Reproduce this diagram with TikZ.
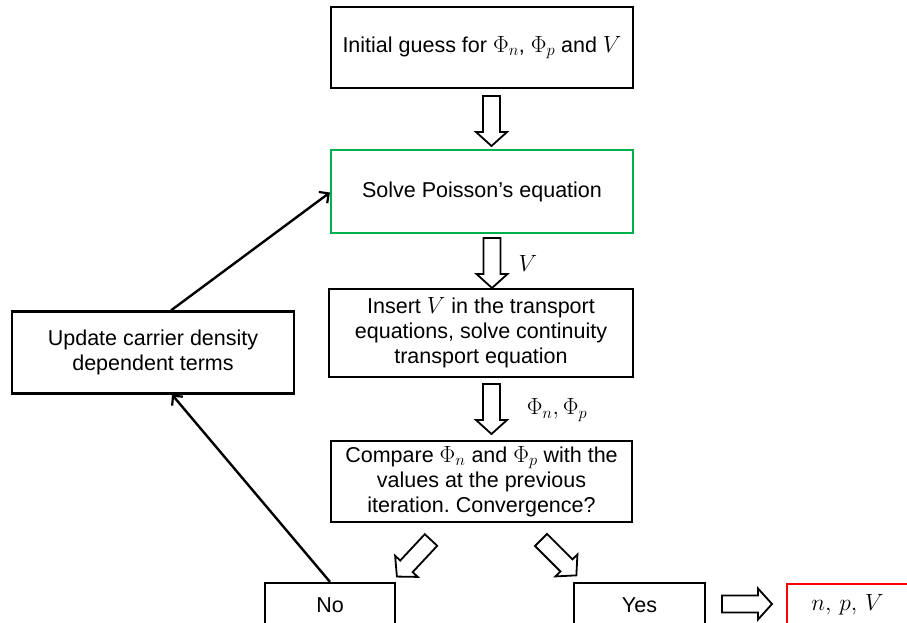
\RequirePackage{fix-cm}
\documentclass[tikz,border=0pt]{standalone}
\usepackage{fontspec}
\setmainfont{Liberation Sans}
\DeclareMathSizes{21.5}{23.5}{16.5}{12}
\frenchspacing
\usetikzlibrary{arrows.meta}
\definecolor{boxgreen}{RGB}{0,176,80}
\definecolor{boxred}{RGB}{255,0,0}
\tikzset{
  box/.style={draw=black, line width=2.2pt, fill=white, align=center, inner sep=0pt,
    font=\fontsize{21.5}{25}\selectfont},
  thickbox/.style={box, line width=2.9pt},
  conn/.style={line width=2.4pt, -{Straight Barb[length=7pt,width=14pt,line width=2.2pt]}},
  lbl/.style={inner sep=0pt, font=\fontsize{21.5}{25}\selectfont},
  blockarr/.pic={
    \draw[line width=1.8pt, fill=white, line join=miter]
      (-8.5,0) -- (8.5,0) -- (8.5,36) -- (15.5,36) -- (0,50) -- (-15.5,36) -- (-8.5,36) -- cycle;
  }
}
\begin{document}
\begin{tikzpicture}[x=1pt, y=-1pt]
\useasboundingbox (0,0) rectangle (907,623);
\clip (0,0) rectangle (907,623);

\node[box, line width=2.6pt, minimum width=302pt, minimum height=81pt] (init) at (482,47.5)
  {Initial guess for $\Phi_n$, $\Phi_p$ and $V$};
\node[box, draw=boxgreen, minimum width=302pt, minimum height=83pt] (solve) at (482,191.5)
  {Solve Poisson’s equation};
\node[thickbox, minimum width=304pt, minimum height=88pt] (insert) at (481,333)
  {Insert $V$ in the transport\\equations, solve continuity\\transport equation};
\node[thickbox, minimum width=301pt, minimum height=81pt] (compare) at (481.5,481.5)
  {Compare $\Phi_n$ and $\Phi_p$ with the\\values at the previous\\iteration. Convergence?};
\node[box, minimum width=282pt, minimum height=82pt] (upd) at (153,352.5)
  {Update carrier density\\dependent terms};
\node[box, minimum width=130pt, minimum height=44pt] (no) at (330,605) {No};
\node[box, minimum width=131pt, minimum height=44pt] (yes) at (639.5,605) {Yes};
\node[box, draw=boxred, line width=2.6pt, minimum width=121pt, minimum height=42pt] (res) at (847.5,605)
  {$n,\,p,\,V$};

\node[lbl] (lv) at (528,263) {$V$};
\node[lbl] (lphi) at (557,410) {$\Phi_n, \Phi_p$};

% hollow block arrows
\pic at (491.5,96) {blockarr};
\pic at (492,238) {blockarr};
\pic at (491.5,384) {blockarr};
\pic[rotate=-43] at (431,540) {blockarr};
\pic[rotate=45] at (541,540) {blockarr};
\pic[rotate=90] at (722,604) {blockarr};

% feedback connectors
\draw[conn] (no.north) -- ([xshift=19pt]upd.south);
\draw[conn] ([xshift=18pt]upd.north) -- ([yshift=-1pt]solve.west);
\end{tikzpicture}
\end{document}
